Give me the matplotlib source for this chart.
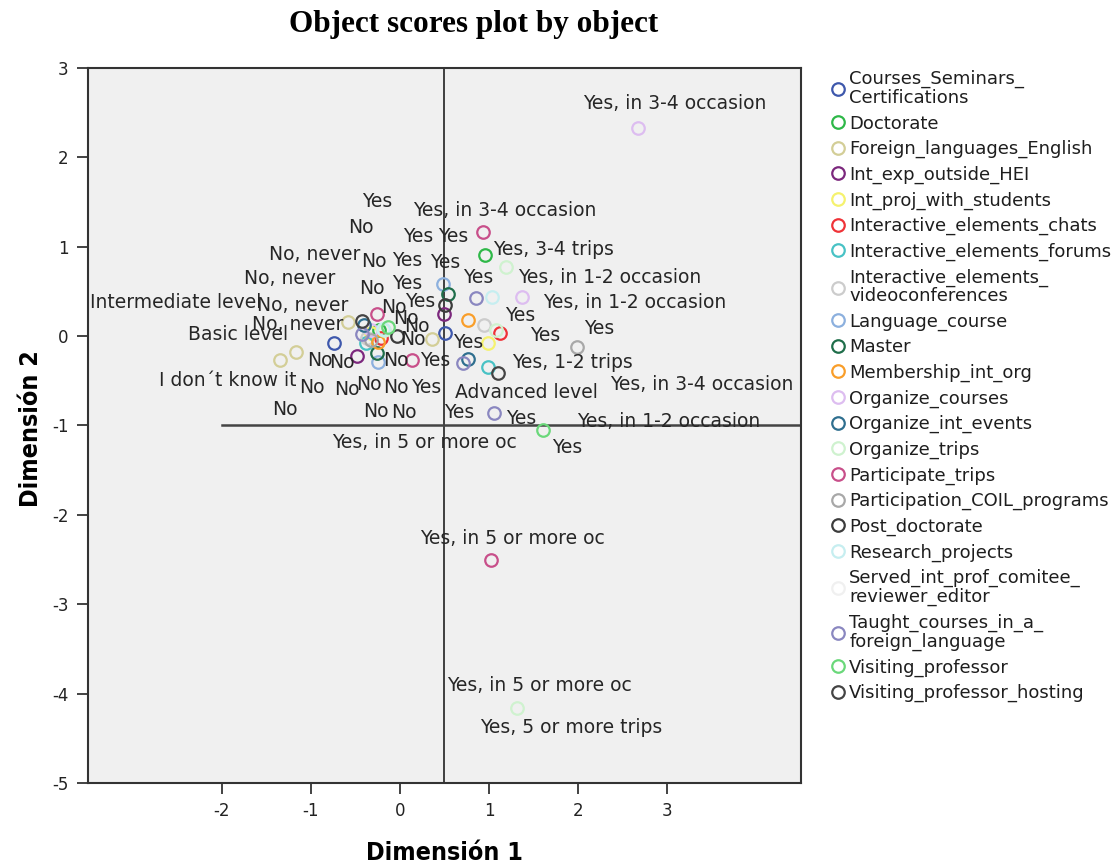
import matplotlib
matplotlib.use('Agg')
import matplotlib.pyplot as plt
from matplotlib.lines import Line2D

plt.rcParams['axes.unicode_minus'] = False

# object categories (legend order), colours and quantified scores (dim1, dim2)
variables = ['Courses_Seminars_\nCertifications', 'Doctorate', 'Foreign_languages_English',
             'Int_exp_outside_HEI', 'Int_proj_with_students', 'Interactive_elements_chats',
             'Interactive_elements_forums', 'Interactive_elements_\nvideoconferences',
             'Language_course', 'Master', 'Membership_int_org', 'Organize_courses',
             'Organize_int_events', 'Organize_trips', 'Participate_trips',
             'Participation_COIL_programs', 'Post_doctorate', 'Research_projects',
             'Served_int_prof_comitee_\nreviewer_editor', 'Taught_courses_in_a_\nforeign_language',
             'Visiting_professor', 'Visiting_professor_hosting']

colors = ['#3E58AC', '#2EB848', '#D3CE97', '#7C287D', '#F5F26E', '#EF3338', '#48C2C5',
          '#CCCCCC', '#8CB0DE', '#1F6E4A', '#F99E2A', '#DDBDF0', '#2F6F8F', '#CFF2CF',
          '#C84F8A', '#A8A8A8', '#3C3C3C', '#C6EEF0', '#F0F0F0', '#8A87C0', '#6AD87A', '#444444']

dim1 = [[-0.74, 0.51], [0.95, -0.23], [-1.35, -1.17, -0.58, 0.36],
        [-0.48, 0.49], [-0.32, 0.99], [-0.21, 1.12],
        [-0.38, 0.99], [-0.37, 0.94],
        [-0.25, 0.48], [-0.26, 0.54], [-0.25, 0.76], [2.67, 1.37, -0.32],
        [-0.40, 0.76], [1.19, 1.31, 1.08, -0.18], [-0.26, 0.13, 0.93, 1.02],
        [1.99, -0.32], [0.51, -0.03], [1.03, -0.19],
        [], [-0.42, 0.85, 0.71, 1.06],
        [1.60, -0.13], [1.10, -0.42]]

dim2 = [[-0.08, 0.04], [0.91, 0.07], [-0.27, -0.18, 0.16, -0.03],
        [-0.22, 0.25], [0.03, -0.08], [-0.02, 0.03],
        [-0.08, -0.35], [-0.02, 0.12],
        [-0.29, 0.58], [-0.19, 0.47], [-0.07, 0.18], [2.33, 0.44, 0.07],
        [0.12, -0.26], [0.77, -4.16, 0.07, 0.07], [0.25, -0.27, 1.17, -2.51],
        [-0.12, -0.04], [0.35, 0.00], [0.44, 0.08],
        [], [0.02, 0.43, -0.30, -0.86],
        [-1.05, 0.10], [-0.41, 0.17]]

# category labels as printed on the plot (text, dim1, dim2)
label_text = ['Yes, in 3-4 occasion', 'Yes', 'Yes, in 3-4 occasion', 'No', 'Yes', 'Yes',
              'Yes, 3-4 trips', 'No, never', 'No', 'Yes', 'Yes', 'Yes', 'Yes, in 1-2 occasion',
              'No, never', 'No', 'Yes', 'Intermediate level', 'No, never', 'No', 'Yes', 'Yes',
              'Yes, in 1-2 occasion', 'No', 'No', 'No, never', 'Basic level', 'No', 'Yes', 'Yes',
              'Yes', 'No', 'No', 'No', 'Yes', 'Yes, 1-2 trips', 'I don´t know it', 'No', 'No',
              'No', 'No', 'Yes', 'Advanced level', 'Yes, in 3-4 occasion', 'No', 'No', 'No',
              'Yes', 'Yes', 'Yes, in 1-2 occasion', 'Yes, in 5 or more oc', 'Yes',
              'Yes, in 5 or more oc', 'Yes, in 5 or more oc', 'Yes, 5 or more trips']
label_x = [3.08, -0.26, 1.18, -0.44, 0.21, 0.60,
           1.72, -0.96, -0.29, 0.08, 0.51, 0.88, 2.35,
           -1.24, -0.32, 0.08, -2.52, -1.09, -0.07, 0.23, 1.35,
           2.63, 0.07, 0.19, -1.15, -1.82, 0.15, 0.77, 1.63,
           2.24, -0.90, -0.65, -0.04, 0.40, 1.94, -1.93, -0.99, -0.59,
           -0.35, -0.04, 0.29, 1.42, 3.39, -1.29, -0.27, 0.04,
           0.66, 1.36, 3.02, 0.27, 1.88,
           1.26, 1.56, 1.92]
label_y = [2.60, 1.51, 1.41, 1.22, 1.12, 1.11,
           0.97, 0.91, 0.83, 0.85, 0.82, 0.66, 0.66,
           0.64, 0.53, 0.59, 0.38, 0.34, 0.32, 0.39, 0.23,
           0.38, 0.20, 0.11, 0.13, 0.02, -0.04, -0.07, 0.01,
           0.09, -0.27, -0.30, -0.27, -0.27, -0.30, -0.50, -0.58, -0.60,
           -0.54, -0.57, -0.57, -0.63, -0.54, -0.82, -0.84, -0.85,
           -0.86, -0.92, -0.96, -1.19, -1.25,
           -2.27, -3.91, -4.38]

fig = plt.figure(figsize=(11.15, 8.67), dpi=100)
ax = fig.add_axes([0.0789, 0.0969, 0.6395, 0.8247])
ax.set_facecolor('#F0F0F0')

# reference lines
ax.axvline(0.5, color='#222222', lw=1.2, zorder=1)
ax.plot([-2, 4.5], [-1, -1], color='#444444', lw=1.8, zorder=1)

for name, c, xs, ys in zip(variables, colors, dim1, dim2):
    ax.plot(xs, ys, 'o', mfc='none', mec=c, ms=9, mew=1.6, zorder=3)

for t, x, y in zip(label_text, label_x, label_y):
    ax.text(x, y, t, ha='center', va='center', fontsize=13.5, color='#262626', zorder=4)

ax.set_xlim(-3.5, 4.5)
ax.set_ylim(-5, 3)
ax.set_xticks([-2, -1, 0, 1, 2, 3])
ax.set_yticks(range(-5, 4))
ax.tick_params(direction='out', length=8, width=1.2, labelsize=12, colors='#222222', pad=6)
for s in ax.spines.values():
    s.set_linewidth(1.5)
    s.set_color('#333333')

fig.text(0.399, 0.016, 'Dimensión 1', ha='center', va='center', fontsize=18,
         fontweight='bold', family='DejaVu Sans', fontstretch='condensed')
fig.text(0.028, 0.506, 'Dimensión 2', ha='center', va='center', fontsize=18, rotation=90,
         fontweight='bold', family='DejaVu Sans', fontstretch='condensed')

fig.text(0.425, 0.972, 'Object scores plot by object', ha='center', va='center',
         fontsize=22.5, fontweight='bold', family='Liberation Serif')

handles = [Line2D([], [], ls='none', marker='o', mfc='none', mec=c, ms=9, mew=1.6)
           for c in colors]
leg = fig.legend(handles, variables, loc='upper left', bbox_to_anchor=(0.747, 0.919),
                 frameon=False, fontsize=13, handlelength=0.6, handletextpad=0.3,
                 labelspacing=0.41, borderpad=0, borderaxespad=0)
for t in leg.get_texts():
    t.set_linespacing(1.05)
    t.set_color('#1e1e1e')

fig.savefig('out.png', dpi=100)
